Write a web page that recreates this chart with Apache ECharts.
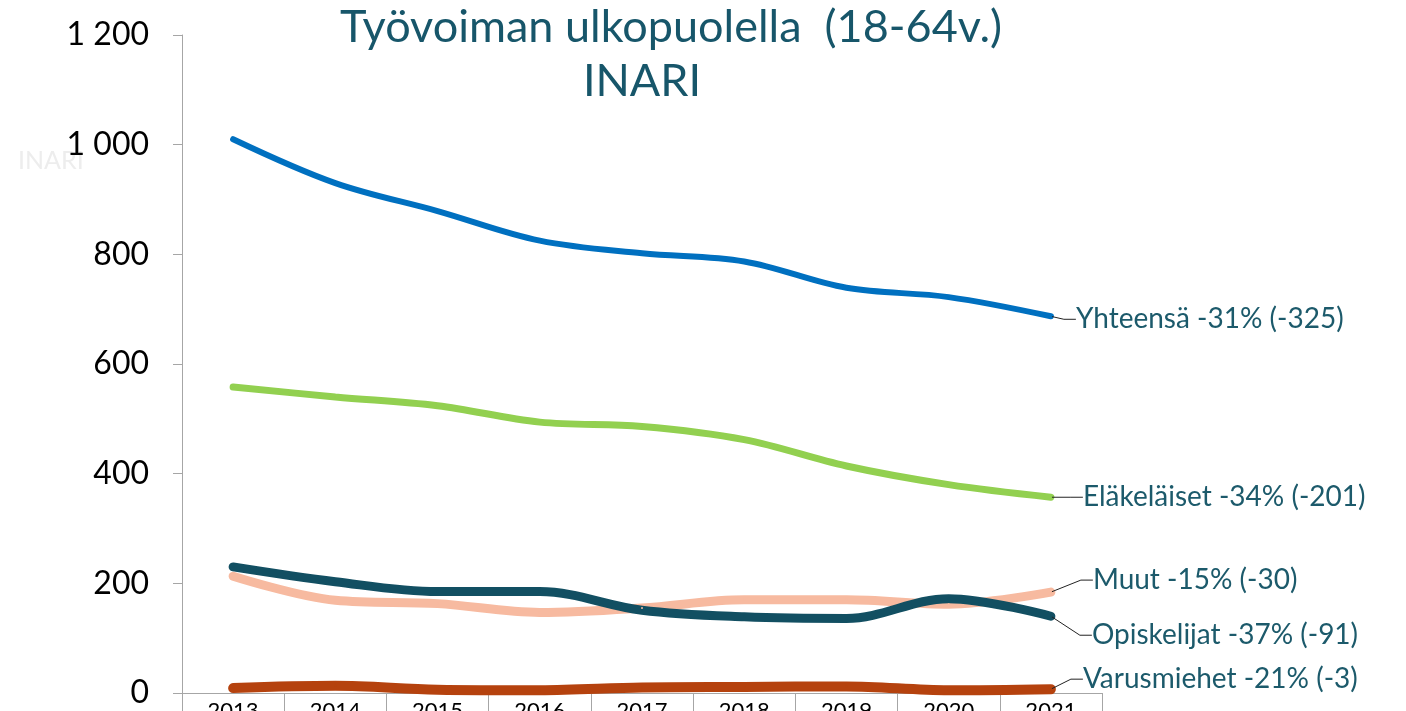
<!DOCTYPE html>
<html>
<head>
<meta charset="utf-8">
<script src="https://cdn.jsdelivr.net/npm/echarts@6/dist/echarts.min.js"></script>
<style>
  html, body { margin: 0; padding: 0; background: #fff; }
  #main { width: 1406px; height: 711px; }
</style>
</head>
<body>
<div id="main"></div>
<script>
const years = ['2013', '2014', '2015', '2016', '2017', '2018', '2019', '2020', '2021']
const yhteensa = [1010, 930, 879, 825, 802, 787, 739, 722, 687]
const elakelaiset = [558, 540, 524, 494, 486, 462, 414, 380, 357]
const muut = [213, 169, 163, 147, 155, 170, 170, 162, 184]
const opiskelijat = [230, 203, 185, 185, 151, 139, 136, 172, 140]
const varusmiehet = [9, 13, 6, 5, 10, 11, 12, 5, 7]
const endLabels = [
  'Yhteensä -31% (-325)',
  'Eläkeläiset -34% (-201)',
  'Muut -15% (-30)',
  'Opiskelijat -37% (-91)',
  'Varusmiehet -21% (-3)',
]

const font = 'Lato, "Open Sans", sans-serif'
const teal = '#1C5A6B'

// viimeiseen pisteeseen nimilappu
function withEndLabel(values, text) {
  return values.map((v, i) =>
    i === values.length - 1
      ? { value: v, label: { show: true, formatter: text } }
      : v
  )
}

function lineSeries(name, values, color, width, text, dist, dy) {
  return {
    name: name,
    type: 'line',
    smooth: 0.35,
    data: withEndLabel(values, text),
    symbol: 'circle',
    symbolSize: 2,
    showSymbol: true,
    itemStyle: { color: color },
    lineStyle: { color: color, width: width, cap: 'round' },
    label: {
      position: 'right',
      distance: dist,
      color: teal,
      fontFamily: font,
      fontSize: 28,
    },
    labelLine: {
      show: true,
      length2: 12,
      lineStyle: { color: '#222', width: 1 },
    },
    labelLayout: { dy: dy },
    z: 2,
  }
}

const option = {
  animation: false,
  grid: {
    left: 182,
    right: 304,
    top: 35,
    bottom: 18,
    containLabel: false,
    outerBoundsMode: 'none',
  },
  graphic: [
    {
      type: 'text',
      x: 671,
      y: 5,
      style: {
        text: 'Työvoiman ulkopuolella  (18-64v.)',
        fill: '#17566A',
        font: '45px ' + font,
        textAlign: 'center',
      },
    },
    {
      type: 'text',
      x: 642,
      y: 59,
      style: {
        text: 'INARI',
        fill: '#17566A',
        font: '45px ' + font,
        textAlign: 'center',
      },
    },
    {
      type: 'text',
      x: 18,
      y: 148,
      style: {
        text: 'INARI',
        fill: '#EDEDED',
        font: '25px ' + font,
      },
    },
  ],
  xAxis: {
    type: 'category',
    data: years,
    boundaryGap: true,
    axisLine: { lineStyle: { color: '#A6A6A6', width: 1 } },
    axisTick: {
      show: true,
      interval: 0,
      length: 24,
      lineStyle: { color: '#A6A6A6' },
    },
    axisLabel: {
      color: '#000',
      fontFamily: font,
      fontSize: 22,
      margin: 7,
      interval: 0,
    },
  },
  yAxis: {
    type: 'value',
    min: 0,
    max: 1200,
    interval: 200,
    splitLine: { show: false },
    axisLine: { show: true, lineStyle: { color: '#A6A6A6', width: 1 } },
    axisTick: { show: true, length: 9, lineStyle: { color: '#A6A6A6' } },
    axisLabel: {
      color: '#000',
      fontFamily: font,
      fontSize: 32,
      margin: 33,
      formatter: v => String(v).replace(/\B(?=(\d{3})+(?!\d))/g, ' '),
    },
  },
  series: [
    lineSeries('Yhteensä', yhteensa, '#0070C0', 6, endLabels[0], 24, 3),
    lineSeries('Eläkeläiset', elakelaiset, '#92D050', 7, endLabels[1], 31, 0),
    lineSeries('Muut', muut, '#F7BAA0', 9, endLabels[2], 41, -12),
    lineSeries('Opiskelijat', opiskelijat, '#124F62', 9, endLabels[3], 40, 19),
    lineSeries('Varusmiehet', varusmiehet, '#B5420E', 10, endLabels[4], 31, -10),
  ],
}

const chart = echarts.init(document.getElementById('main'))
chart.setOption(option)
window.addEventListener('resize', function () {
  chart.resize()
})
</script>
</body>
</html>
